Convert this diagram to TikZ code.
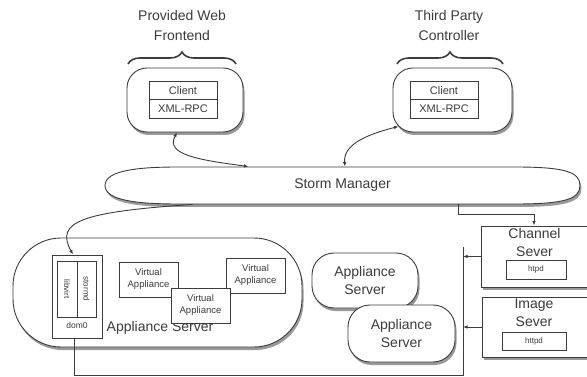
\documentclass[tikz,border=0pt]{standalone}
\usepackage{fontspec}
\setmainfont{Liberation Sans}
\usetikzlibrary{arrows.meta,positioning,shadows,decorations.pathreplacing}
\definecolor{linegray}{HTML}{3C3C3C}

\begin{document}
\begin{tikzpicture}[x=1pt,y=-1pt,>={Latex[length=4.5pt,width=3.5pt]},font=\fontsize{14}{18}\selectfont,line width=0.9pt,color=linegray]
\tikzset{
shad/.style={drop shadow={shadow xshift=1.5pt,shadow yshift=-3pt,opacity=0.4,fill=black}},
pill/.style={draw=linegray,fill=white,rounded corners=#1,shad},
sbox/.style={draw=linegray,fill=white,shad},
cell/.style={draw=linegray,fill=white,minimum width=68pt,minimum height=18.5pt,inner sep=0pt,font=\fontsize{11}{13}\selectfont},
vbox/.style={draw=linegray,fill=white,minimum width=59pt,minimum height=35pt,inner sep=0pt,align=center,font=\fontsize{9.5}{12}\selectfont},
small/.style={draw=linegray,fill=white,inner sep=0pt,font=\fontsize{8}{10}\selectfont},
brc/.style={decorate,decoration={brace,amplitude=12pt},line width=1.6pt},
lbl/.style={align=center,inner sep=0pt},
a/.style={->},
aa/.style={<->}}

\useasboundingbox (0,0) rectangle (587,377);

% clients on top
\node[pill=20pt,minimum width=116pt,minimum height=64pt] (webbox) at (185,100) {};
\node[cell] (webclient) at (183,90.5) {Client};
\node[cell] (webrpc) at (183,109) {XML-RPC};
\draw[brc] (128,64) -- (236,64);
\node[lbl,font=\fontsize{14}{20}\selectfont] (webname) at (182,25) {Provided Web\\Frontend};

\node[pill=20pt,minimum width=119pt,minimum height=64pt] (tpcbox) at (452.5,100) {};
\node[cell] (tpcclient) at (444,90.5) {Client};
\node[cell] (tpcrpc) at (444,109) {XML-RPC};
\draw[brc] (397,64) -- (503,64);
\node[lbl,font=\fontsize{14}{20}\selectfont] (tpcname) at (449,25) {Third Party\\Controller};

% manager
\draw[fill=white,shad] (105,185.5) .. controls (105,170) and (140,167) .. (178,167) -- (515,167)
  .. controls (565,167) and (580,172) .. (580,185.5) .. controls (580,199) and (565,204) .. (515,204)
  -- (178,204) .. controls (140,204) and (105,201) .. cycle;
\node[minimum width=475pt,minimum height=37pt] (storm) at (342.5,185.5) {Storm Manager};

% appliance server with dom0
\node[pill=48pt,minimum width=289pt,minimum height=109pt] (appsrv) at (157.5,292.5) {};
\node[lbl] (appsrvname) at (160,328) {Appliance Server};
\node[draw=linegray,minimum width=50pt,minimum height=83pt] (dom0) at (77,296.5) {};
\node[small,minimum width=56pt,minimum height=20pt,rotate=-90] (libvirt) at (67,289) {libvirt};
\node[small,minimum width=56pt,minimum height=19pt,rotate=-90] (stormd) at (86.5,289) {stormd};
\node[lbl,font=\fontsize{8.5}{10}\selectfont] (dom0name) at (77,325) {dom0};
\node[vbox] (va1) at (148.5,279.5) {Virtual\\Appliance};
\node[vbox] (va3) at (255.5,275.5) {Virtual\\Appliance};
\node[vbox] (va2) at (200.5,305.5) {Virtual\\Appliance};

\node[pill=22pt,minimum width=106pt,minimum height=55pt,align=center] (as1) at (365,280.5) {Appliance\\Server};
\node[pill=22pt,minimum width=107pt,minimum height=57pt,align=center] (as2) at (401.5,333.5) {Appliance\\Server};

% content servers
\node[sbox,minimum width=110pt,minimum height=61pt] (chan) at (536,256.5) {};
\node[lbl] (channame) at (534.5,242) {Channel\\Sever};
\node[small,minimum width=60pt,minimum height=19pt] (chanhttpd) at (536,269.5) {htpd};
\node[sbox,minimum width=110pt,minimum height=60pt] (img) at (537,327) {};
\node[lbl] (imgname) at (534,312.5) {Image\\Sever};
\node[small,minimum width=64pt,minimum height=18pt] (imghttpd) at (534,341) {httpd};

\coordinate (bustop) at (463,247);
\coordinate (busend) at (463,375);

\draw[aa] ([xshift=-8pt]webbox.south) .. controls (165,155) and (200,160) .. ([xshift=-94pt]storm.north);
\draw[aa] ([xshift=2.5pt]storm.north) .. controls (343,145) and (365,135) .. ([xshift=6pt,yshift=6pt]tpcbox.south west);
\draw[a] ([xshift=-150pt]storm.south) .. controls (80,212) and (55,222) .. ([xshift=-4pt]dom0.north);
\draw[a] ([xshift=116pt]storm.south) -- ++(0,10) -| ([xshift=-2pt]chan.north);
\draw[a] (chan.west) -- (chan.west -| bustop);
\draw[a] (img.west) -- (img.west -| bustop);
\draw (bustop) -- (busend) -| ([xshift=-3pt]dom0.south);
\end{tikzpicture}
\end{document}
